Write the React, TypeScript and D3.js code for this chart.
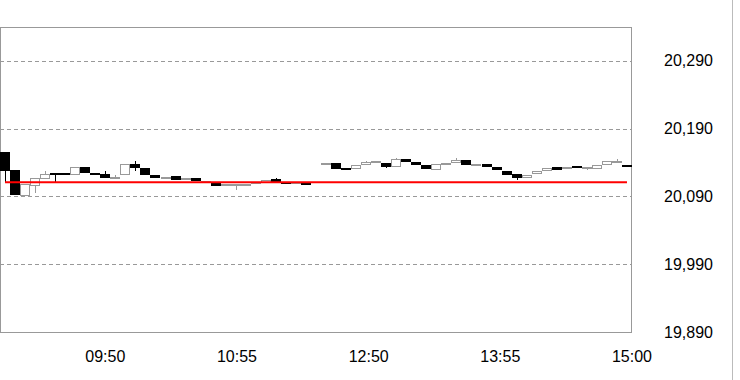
import React from "react";
import * as d3 from "d3";

// 5-minute candles; slot 31 is the lunch break (no trade)
const opens: (number | null)[] = [
  20155, 20129, 20090, 20106, 20116, 20125, 20124, 20122, 20133, 20125, 20123, 20118, 20122, 20138, 20132, 20122,
  20117, 20120, 20115, 20117, 20110, 20111, 20106, 20107, 20108, 20109, 20110, 20116, 20112, 20110, 20110,
  null,
  20136, 20140, 20132, 20130, 20136, 20140, 20139, 20134, 20145, 20141, 20137, 20129, 20138, 20140,
  20144, 20136, 20138, 20134, 20128, 20123, 20117, 20123, 20128, 20134, 20131, 20135, 20130, 20130, 20136, 20142, 20137,
];
const closes: (number | null)[] = [
  20128, 20092, 20109, 20117, 20123, 20122, 20123, 20134, 20124, 20122, 20117, 20119, 20138, 20132, 20121, 20117,
  20119, 20115, 20117, 20113, 20113, 20106, 20109, 20109, 20109, 20111, 20114, 20112, 20110, 20111, 20108,
  null,
  20140, 20131, 20130, 20136, 20141, 20143, 20134, 20145, 20141, 20136, 20130, 20138, 20140, 20144,
  20136, 20138, 20134, 20129, 20122, 20117, 20122, 20128, 20132, 20129, 20134, 20133, 20133, 20137, 20143, 20143, 20133,
];
const highs: (number | null)[] = [
  20155, 20129, 20109, 20117, 20128, 20125, 20124, 20134, 20133, 20125, 20128, 20121, 20138, 20142, 20132, 20122,
  20119, 20120, 20117, 20117, 20113, 20111, 20109, 20109, 20109, 20111, 20114, 20117, 20112, 20111, 20110,
  null,
  20140, 20140, 20132, 20136, 20143, 20143, 20139, 20147, 20145, 20141, 20137, 20138, 20140, 20147,
  20144, 20138, 20138, 20134, 20128, 20123, 20122, 20128, 20132, 20134, 20134, 20135, 20133, 20137, 20143, 20145, 20137,
];
const lows: (number | null)[] = [
  20112, 20092, 20090, 20095, 20116, 20112, 20123, 20122, 20124, 20122, 20117, 20118, 20122, 20127, 20121, 20117,
  20117, 20115, 20115, 20113, 20110, 20106, 20106, 20100, 20108, 20109, 20110, 20112, 20110, 20110, 20108,
  null,
  20136, 20130, 20130, 20130, 20136, 20140, 20132, 20134, 20141, 20136, 20130, 20129, 20138, 20140,
  20136, 20136, 20134, 20129, 20122, 20115, 20117, 20123, 20128, 20129, 20131, 20133, 20129, 20130, 20136, 20142, 20133,
];
const referenceLevel = 20111;

const yTicks = [19890, 19990, 20090, 20190, 20290];
const yDomain = [19890, 20340];
const xTickLabels = ["09:50", "10:55", "12:50", "13:55", "15:00"];
const xTickSlots = [10.5, 23.625, 36.75, 49.875, 63];

const W = 740;
const H = 380;
const plotLeft = 0;
const plotRight = 632;
const plotTop = 27;
const plotBottom = 332;

export default function App() {
  const n = opens.length;
  const idx = d3.range(n);
  const xBand = d3.scaleBand<number>().domain(idx).range([plotLeft, plotRight]).padding(0);
  const xLin = d3.scaleLinear().domain([0, n]).range([plotLeft, plotRight]);
  const y = d3.scaleLinear().domain(yDomain).range([plotBottom, plotTop]);
  const bw = xBand.bandwidth();
  const fmt = d3.format(",");
  const font = "'Liberation Sans', Arial, sans-serif";

  return (
    <svg width={W} height={H} style={{ position: "absolute", left: 0, top: 0, background: "#fff" }}>
      {/* grid */}
      {yTicks.slice(1).map((t) => (
        <line key={t} x1={plotLeft} x2={plotRight} y1={Math.round(y(t)) + 0.5} y2={Math.round(y(t)) + 0.5}
          stroke="#999" strokeDasharray="4,3" strokeWidth={1} />
      ))}
      {/* plot frame */}
      <rect x={plotLeft + 0.5} y={plotTop + 0.5} width={plotRight - plotLeft - 1} height={plotBottom - plotTop}
        fill="none" stroke="#999" strokeWidth={1} />
      {/* outer right border */}
      <line x1={732.5} x2={732.5} y1={0} y2={H} stroke="#bbb" strokeWidth={1} />
      {/* candles */}
      {idx.map((i) => {
        const o = opens[i], c = closes[i], h = highs[i], l = lows[i];
        if (o == null || c == null || h == null || l == null) return null;
        const up = c >= o;
        const x0 = Math.round(xBand(i)!);
        const cx = x0 + Math.floor(bw / 2) + 0.5;
        const top = Math.round(y(Math.max(o, c)));
        const bot = Math.round(y(Math.min(o, c)));
        const bh = Math.max(1, bot - top);
        const stroke = up ? "#999" : "#000";
        return (
          <g key={i}>
            <line x1={cx} x2={cx} y1={Math.round(y(h))} y2={Math.round(y(l))} stroke={stroke} strokeWidth={1} />
            {up ? (
              <rect x={x0 + 0.5} y={top + 0.5} width={Math.round(bw) - 1} height={Math.max(1, bh - 1)} fill="#fff" stroke={stroke} strokeWidth={1} />
            ) : (
              <rect x={x0} y={top} width={Math.round(bw)} height={Math.max(2, bh)} fill="#000" />
            )}
          </g>
        );
      })}
      {/* reference line */}
      <line x1={xBand(0)! + bw / 2} x2={xBand(n - 1)! + bw / 2} y1={y(referenceLevel)} y2={y(referenceLevel)}
        stroke="#ff0000" strokeWidth={2} />
      {/* y labels */}
      {yTicks.map((t) => (
        <text key={t} x={664} y={y(t)} dy="0.35em" fontFamily={font} fontSize={16} fill="#000">
          {fmt(t)}
        </text>
      ))}
      {/* x labels */}
      {xTickLabels.map((lab, k) => (
        <text key={lab} x={xLin(xTickSlots[k])} y={362} textAnchor="middle" fontFamily={font} fontSize={16} fill="#000">
          {lab}
        </text>
      ))}
    </svg>
  );
}
